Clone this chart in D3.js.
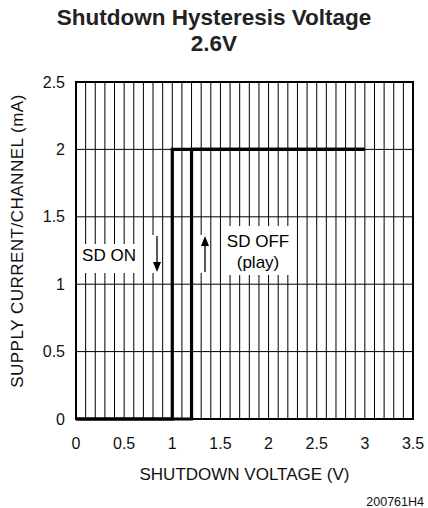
<!DOCTYPE html>
<html><head><meta charset="utf-8">
<script src="https://cdn.jsdelivr.net/npm/d3@7"></script>
<style>body{margin:0;background:#fff;}svg{display:block;font-family:"Liberation Sans",Arial,sans-serif;}</style>
</head><body>
<script>
const titleLines = ["Shutdown Hysteresis Voltage", "2.6V"];
const xTicks = [0, 0.5, 1, 1.5, 2, 2.5, 3, 3.5];
const yTicks = [0, 0.5, 1, 1.5, 2, 2.5];
const xMinorStep = 0.1;
// SD ON (falling) path and SD OFF (rising) path
const sdOnX = [3.0, 1.0, 1.0, 0.0];
const sdOnY = [2.0, 2.0, 0.0, 0.0];
const sdOffX = [0.0, 1.2, 1.2, 3.0];
const sdOffY = [0.0, 0.0, 2.0, 2.0];
const xLabel = "SHUTDOWN VOLTAGE (V)";
const yLabel = "SUPPLY CURRENT/CHANNEL (mA)";
const figId = "200761H4";

const W = 428, H = 508;
const m = {l: 76, r: 15, t: 82, b: 89};
const svg = d3.select("body").append("svg").attr("width", W).attr("height", H);
const x = d3.scaleLinear().domain([0, 3.5]).range([m.l, W - m.r]);
const y = d3.scaleLinear().domain([0, 2.5]).range([H - m.b, m.t]);

// title
svg.selectAll("text.title").data(titleLines).join("text")
  .attr("x", 214).attr("y", (d, i) => 25 + i * 26)
  .attr("text-anchor", "middle").attr("font-weight", "bold")
  .attr("font-size", 22.5).attr("fill", "#222").text(d => d);

// grid
const minor = d3.range(1, 35).map(i => +(i * xMinorStep).toFixed(2));
svg.append("g").selectAll("line").data(minor).join("line")
  .attr("x1", d => x(d)).attr("x2", d => x(d))
  .attr("y1", y(2.5)).attr("y2", y(0))
  .attr("stroke", "#000").attr("stroke-width", 1);
svg.append("g").selectAll("line").data(yTicks.slice(1, -1)).join("line")
  .attr("x1", x(0)).attr("x2", x(3.5))
  .attr("y1", d => y(d)).attr("y2", d => y(d))
  .attr("stroke", "#000").attr("stroke-width", 1);

// label boxes masking the grid
svg.append("rect").attr("x", 79).attr("y", 244).attr("width", 61).attr("height", 29).attr("fill", "#fff");
svg.append("rect").attr("x", 223).attr("y", 226).attr("width", 69).attr("height", 49).attr("fill", "#fff");

// frame
svg.append("rect").attr("x", x(0)).attr("y", y(2.5))
  .attr("width", x(3.5) - x(0)).attr("height", y(0) - y(2.5))
  .attr("fill", "none").attr("stroke", "#000").attr("stroke-width", 2);

// data lines
const line = d3.line().x(d => x(d[0])).y(d => y(d[1]));
svg.append("path").datum(sdOnX.map((v, i) => [v, sdOnY[i]]))
  .attr("d", line).attr("fill", "none").attr("stroke", "#000").attr("stroke-width", 3.2);
svg.append("path").datum(sdOffX.map((v, i) => [v, sdOffY[i]]))
  .attr("d", line).attr("fill", "none").attr("stroke", "#000").attr("stroke-width", 3.2);

// annotations
svg.append("text").attr("x", 109).attr("y", 261).attr("text-anchor", "middle")
  .attr("font-size", 17).text("SD ON");
svg.append("text").attr("x", 258).attr("y", 247).attr("text-anchor", "middle")
  .attr("font-size", 17).text("SD OFF");
svg.append("text").attr("x", 258).attr("y", 268).attr("text-anchor", "middle")
  .attr("font-size", 17).text("(play)");

// arrows
function arrow(xp, yStart, yEnd) {
  const dir = yEnd > yStart ? 1 : -1;
  svg.append("rect").attr("x", xp - 5).attr("y", Math.min(yStart, yEnd) - 1).attr("width", 10)
    .attr("height", Math.abs(yEnd - yStart) + 2).attr("fill", "#fff");
  svg.append("line").attr("x1", xp).attr("x2", xp).attr("y1", yStart).attr("y2", yEnd - dir * 6)
    .attr("stroke", "#000").attr("stroke-width", 1.3);
  svg.append("path").attr("d", `M${xp - 4},${yEnd - dir * 10}L${xp + 4},${yEnd - dir * 10}L${xp},${yEnd}Z`)
    .attr("fill", "#000");
}
arrow(157, 236, 272);
arrow(205, 272, 236);

// tick labels
svg.append("g").selectAll("text").data(xTicks).join("text")
  .attr("x", d => x(d)).attr("y", 449).attr("text-anchor", "middle")
  .attr("font-size", 16).attr("fill", "#111").text(d => d);
svg.append("g").selectAll("text").data(yTicks).join("text")
  .attr("x", 65).attr("y", d => y(d) + 5.5).attr("text-anchor", "end")
  .attr("font-size", 16).attr("fill", "#111").text(d => d);

// axis titles
svg.append("text").attr("x", x(1.75)).attr("y", 480).attr("text-anchor", "middle")
  .attr("font-size", 17).attr("fill", "#111").text(xLabel);
svg.append("text").attr("transform", "translate(23,241) rotate(-90)").attr("text-anchor", "middle")
  .attr("font-size", 17).attr("letter-spacing", 0.5).attr("fill", "#111").text(yLabel);
svg.append("text").attr("x", 424).attr("y", 506).attr("text-anchor", "end")
  .attr("font-size", 12.5).attr("fill", "#111").text(figId);
</script>
</body></html>
